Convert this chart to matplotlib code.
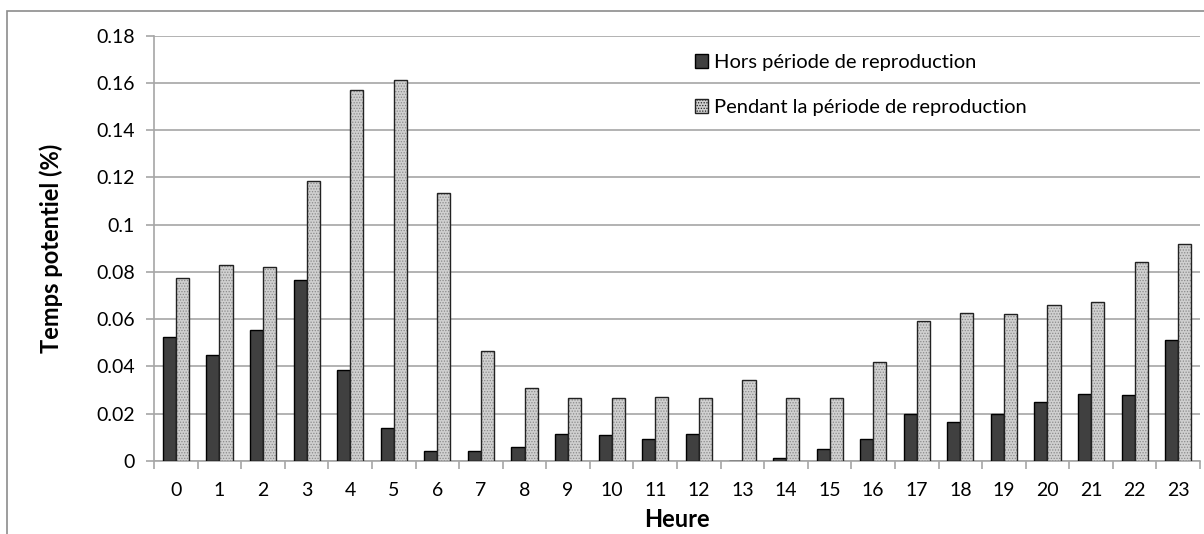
import matplotlib
matplotlib.use("Agg")
import matplotlib.pyplot as plt
from matplotlib.patches import Patch, Rectangle
import numpy as np

# ---------------------------------------------------------------------------
# Data
# ---------------------------------------------------------------------------
hours = list(range(24))
hors_repro = [0.0525, 0.0449, 0.0555, 0.0767, 0.0386, 0.0140, 0.0040, 0.0040,
              0.0060, 0.0115, 0.0110, 0.0093, 0.0115, 0.0000, 0.0010, 0.0050,
              0.0093, 0.0200, 0.0165, 0.0200, 0.0250, 0.0284, 0.0280, 0.0513]
pendant_repro = [0.0775, 0.0830, 0.0820, 0.1186, 0.1570, 0.1612, 0.1136, 0.0466,
                 0.0310, 0.0267, 0.0267, 0.0270, 0.0267, 0.0343, 0.0267, 0.0267,
                 0.0420, 0.0593, 0.0627, 0.0623, 0.0660, 0.0674, 0.0843, 0.0920]
y_ticks = [0, 0.02, 0.04, 0.06, 0.08, 0.1, 0.12, 0.14, 0.16, 0.18]
y_tick_labels = ["0", "0.02", "0.04", "0.06", "0.08", "0.1", "0.12", "0.14", "0.16", "0.18"]

LABEL_HORS = "Hors période de reproduction"
LABEL_PENDANT = "Pendant la période de reproduction"

DARK = "#404040"
LIGHT = "#d0d0d0"
GRID = "#a6a6a6"

plt.rcParams["font.family"] = ["Lato", "DejaVu Sans"]

fig = plt.figure(figsize=(12.04, 5.34), dpi=100)
ax = fig.add_axes([0.128, 0.137, 0.8687, 0.796])

x = np.arange(len(hours))
w = 0.3

ax.bar(x - w / 2, hors_repro, width=w, color=DARK, edgecolor="black", lw=1.0, zorder=3)
# dotted fill for the light series, then a black outline on top
plt.rcParams["hatch.linewidth"] = 0.6
ax.bar(x + w / 2, pendant_repro, width=w, color=LIGHT, edgecolor="#8a8a8a",
       hatch="......", lw=0, zorder=3)
ax.bar(x + w / 2, pendant_repro, width=w, fill=False, edgecolor="#222222", lw=1.0, zorder=4)

ax.set_xlim(-0.5, 23.5)
ax.set_ylim(0, 0.18)
ax.set_yticks(y_ticks)
ax.set_yticklabels(y_tick_labels)
ax.set_xticks(x)
ax.set_xticklabels([str(h) for h in hours])
ax.set_xticks(np.arange(-0.5, 24, 1), minor=True)
ax.tick_params(axis="x", which="major", length=0, labelsize=14, pad=15)
ax.tick_params(axis="x", which="minor", length=6, color=GRID, width=1.2)
ax.tick_params(axis="y", length=6, color=GRID, width=1.2, labelsize=14, pad=8)

ax.grid(axis="y", color=GRID, lw=1.2, zorder=0)
ax.set_axisbelow(True)
for side in ["top", "right"]:
    ax.spines[side].set_visible(False)
for side in ["left", "bottom"]:
    ax.spines[side].set_color(GRID)
    ax.spines[side].set_linewidth(1.2)

ax.set_ylabel("Temps potentiel (%)", fontsize=17, fontweight="bold", labelpad=24)
ax.set_xlabel("Heure", fontsize=17, fontweight="bold", labelpad=7)

handles = [
    Patch(facecolor=DARK, edgecolor="black", label=LABEL_HORS),
    Patch(facecolor=LIGHT, edgecolor="#222222", hatch="......", label=LABEL_PENDANT),
]
ax.legend(handles=handles, loc="upper left", bbox_to_anchor=(0.5, 1.0),
          frameon=False, fontsize=14.5, handlelength=0.65, handleheight=0.65,
          handletextpad=0.3, labelspacing=1.4)

# chart-area frame (cropped on the right and bottom)
fig.patches.append(Rectangle((7 / 1204, -0.1), 1.2, 1.1 - 11 / 534,
                             transform=fig.transFigure, fill=False,
                             edgecolor="#8c8c8c", lw=1.2))

fig.savefig("out.png", dpi=100)
